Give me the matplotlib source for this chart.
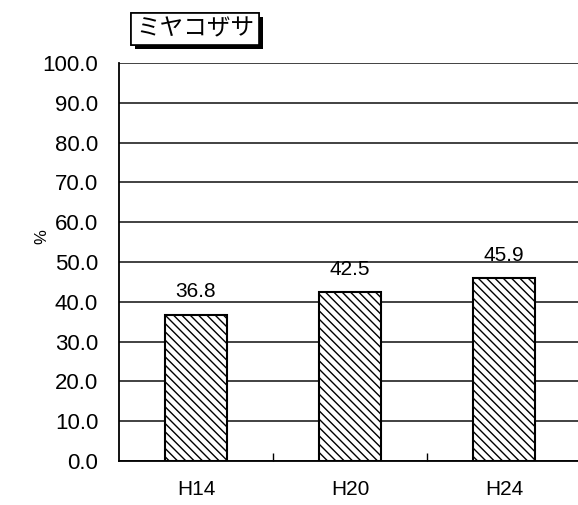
import matplotlib.pyplot as plt
import matplotlib.patheffects as pe

categories = ["H14", "H20", "H24"]
values = [36.8, 42.5, 45.9]
title = "ミヤコザサ"

plt.rcParams['font.family'] = ['Liberation Sans', 'Noto Sans CJK JP', 'DejaVu Sans']
plt.rcParams['hatch.linewidth'] = 1.0

fig = plt.figure(figsize=(5.78, 5.05), dpi=100)
ax = fig.add_axes([119 / 578, 44 / 505, 462 / 578, 398 / 505])

x = range(len(categories))
bars = ax.bar(x, values, width=0.4, color='white', edgecolor='black',
              linewidth=1.5, hatch='\\' * 4, zorder=3)

for xi, v in zip(x, values):
    ax.text(xi, v + 3.3, f"{v:.1f}", ha='center', va='bottom', fontsize=15)

ax.set_xlim(-0.5, 2.5)
ax.set_ylim(0, 100)
ax.set_yticks([i * 10 for i in range(11)])
ax.set_yticklabels([f"{i * 10:.1f}" for i in range(11)], fontsize=16)
ax.tick_params(axis='y', length=0, pad=15)
ax.set_xticks(list(x))
ax.set_xticklabels(categories, fontsize=15)
ax.tick_params(axis='x', length=0, pad=14)
ax.set_xticks([0.5, 1.5], minor=True)
ax.tick_params(axis='x', which='minor', direction='in', length=6, width=1)

ax.grid(axis='y', color='#333333', linewidth=1.3, zorder=0)
for s in ['top', 'right']:
    ax.spines[s].set_visible(False)
ax.spines['left'].set_linewidth(1.3)
ax.spines['bottom'].set_linewidth(1.3)

fig.text(42 / 578, 1 - 237 / 505, "%", rotation=90, fontsize=12,
         ha='center', va='center')

t = fig.text(195 / 578, 1 - 29 / 505, title, fontsize=17,
             family=['Noto Sans CJK JP'], ha='center', va='center',
             bbox=dict(boxstyle='square,pad=0.2', facecolor='white',
                       edgecolor='black', linewidth=1.2))
t.get_bbox_patch().set_path_effects([
    pe.withSimplePatchShadow(offset=(3, -3), shadow_rgbFace='black', alpha=1.0),
    pe.Normal()])

fig.savefig("out.png", dpi=100)
